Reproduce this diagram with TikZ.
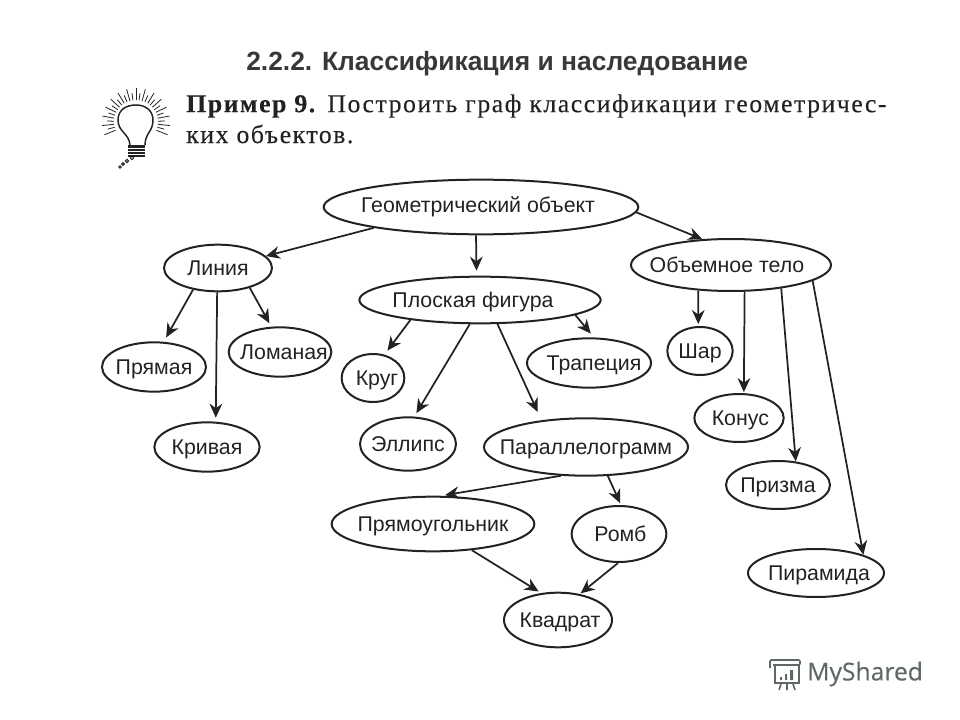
\documentclass[tikz,border=0pt]{standalone}
\usepackage{fontspec}
\setmainfont{Liberation Sans}
\newfontfamily\bookfont[LetterSpace=6,FakeBold=0.25]{Liberation Serif}
\newfontfamily\logofont[FakeBold=0.3]{Open Sans}
\usetikzlibrary{arrows.meta,shapes.geometric}
\definecolor{ink}{HTML}{222222}
\definecolor{logogray}{HTML}{5F6864}
\newcommand{\ovaltext}[2][0]{\makebox[0pt]{\kern#1pt\raisebox{-.36em}[0pt][0pt]{#2}}}
\tikzset{
  oval/.style={ellipse,draw=ink,line width=1.5pt,inner sep=0pt,font=\fontsize{16}{18}\selectfont,text=ink},
  arr/.style={-{Stealth[length=10.5pt,width=9.5pt]},draw=ink,line width=1.3pt},
}
\begin{document}
\begin{tikzpicture}[x=0.75pt,y=-0.75pt]
\useasboundingbox (0,0) rectangle (960,720);
% heading
\node[anchor=west,inner sep=0pt,text=ink!90,font=\fontsize{19.8}{22}\selectfont\bfseries] (title) at (246,64) {2.2.2. Классификация и наследование};
\node[anchor=west,inner sep=0pt,text=ink,font=\fontsize{19.3}{22}\bookfont] (task1) at (186,106) {\textbf{Пример 9.} Построить граф классификации геометричес-};
\node[anchor=west,inner sep=0pt,text=ink,font=\fontsize{19.3}{22}\bookfont] (task2) at (186,134) {ких объектов.};
% lamp
\draw[ink,line width=1.1pt] (130,145) .. controls (129,133) and (118,132) .. (118,120) .. controls (118,110) and (126,105) .. (136,105) .. controls (146,105) and (153,111) .. (153,120) .. controls (153,132) and (145,133) .. (145,145);
\foreach \a [count=\n] in {-22,-14,...,202}{
  \pgfmathsetmacro{\ro}{isodd(\n)?32:27}
  \draw[ink,line width=.6pt] (136,122)++(-\a:22) -- ++(-\a:\ro-20);}
\fill[ink] (128,145) rectangle (145,157);
\foreach \yy in {148,151,154}{\draw[white,line width=.5pt] (128,\yy) -- (145,\yy);}
\foreach \xx/\yy/\r in {132/158/1.8,127/161/1.6,123/164/1.4,120/167/1.2}{
  \draw[ink,line width=.7pt] (\xx,\yy) circle[radius=\r];}
% class nodes
\node[oval,minimum width=236pt,minimum height=41pt] (geom) at (481,207) {\ovaltext[-4.5]{\raisebox{1.5pt}{Геометрический объект}}};
\node[oval,minimum width=81pt,minimum height=35pt] (liniya) at (218,268) {\ovaltext{Линия}};
\node[oval,minimum width=181pt,minimum height=35pt] (ploskaya) at (480,300) {\ovaltext[-10.5]{Плоская фигура}};
\node[oval,minimum width=150pt,minimum height=39pt] (obem) at (731,265) {\ovaltext[-6]{Объемное тело}};
\node[oval,minimum width=78pt,minimum height=37pt] (pryamaya) at (154,367) {\ovaltext{Прямая}};
\node[oval,minimum width=77pt,minimum height=37pt] (lomanaya) at (280,352) {\ovaltext[6]{Ломаная}};
\node[oval,minimum width=79pt,minimum height=37pt] (krivaya) at (207,447) {\ovaltext{Кривая}};
\node[oval,minimum width=47pt,minimum height=36pt] (krug) at (373,378) {\ovaltext[6]{Круг}};
\node[oval,minimum width=93pt,minimum height=37pt] (trapeciya) at (589,363) {\ovaltext[7.5]{Трапеция}};
\node[oval,minimum width=72pt,minimum height=40pt] (ellips) at (408,444) {\ovaltext{Эллипс}};
\node[oval,minimum width=153pt,minimum height=43pt] (parall) at (586,447) {\ovaltext{Параллелограмм}};
\node[oval,minimum width=152pt,minimum height=41pt] (pryamoug) at (433,524) {\ovaltext{Прямоугольник}};
\node[oval,minimum width=71pt,minimum height=42pt] (romb) at (619,534) {\ovaltext[2]{Ромб}};
\node[oval,minimum width=81pt,minimum height=41pt] (kvadrat) at (558,620) {\ovaltext[3]{Квадрат}};
\node[oval,minimum width=49pt,minimum height=36pt] (shar) at (700,351) {\ovaltext{Шар}};
\node[oval,minimum width=67pt,minimum height=36pt] (konus) at (739,418) {\ovaltext[2]{Конус}};
\node[oval,minimum width=78pt,minimum height=36pt] (prizma) at (778,485) {\ovaltext{Призма}};
\node[oval,minimum width=102pt,minimum height=36pt] (piramida) at (816,573) {\ovaltext[4.5]{Пирамида}};
% links: from.angle / to.angle / gap at the tip
\foreach \from/\to/\gap in {geom.191/liniya.14/0,geom.260/ploskaya.98/5,geom.358/obem.138/0,
  liniya.221/pryamaya.69/5,liniya.268/krivaya.71/4,liniya.328/lomanaya.109/4,
  ploskaya.196/krug.64/5,ploskaya.247/ellips.77/4,ploskaya.306/parall.149/9,ploskaya.351/trapeciya.79/5,
  obem.218/shar.94/2,obem.297/konus.79/1,obem.335/prizma.53/0,obem.349/piramida.21/0,
  parall.229/pryamoug.74/4,parall.307/romb.86/2,pryamoug.326/kvadrat.122/3,romb.268/kvadrat.50/1}{
  \draw[arr,shorten >=\gap*0.75pt] (\from) -- (\to);}
% logo
\draw[logogray,line width=1.2pt,rounded corners=1pt] (770,668) -- (770,660) -- (800,660) -- (800,665) -- (773,665);
\draw[logogray,line width=1.2pt] (775,665) -- (775,683) -- (799,683) -- (799,665);
\fill[logogray] (780,677) rectangle (782,680) (785,674) rectangle (787,680) (790,670) rectangle (793,680);
\draw[logogray,line width=1.2pt] (781,684) -- (779,690) (787,684) -- (787,690) (793,684) -- (795,690);
\node[anchor=west,inner sep=0pt,text=logogray,font=\fontsize{18.5}{20}\logofont] (logo) at (807,674) {MyShared};
\end{tikzpicture}
\end{document}
